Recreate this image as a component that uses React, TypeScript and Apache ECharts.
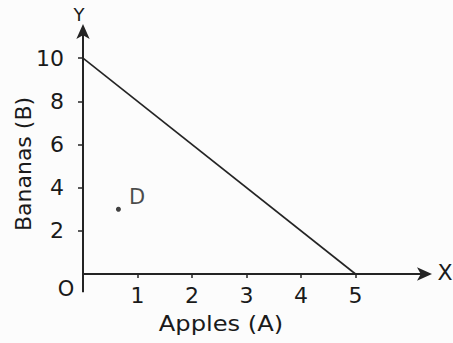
import React, { useEffect, useRef } from "react";
import * as echarts from "echarts";

const xTicks = [1, 2, 3, 4, 5];
const yTicks = [2, 4, 6, 8, 10];
const budgetLine: [number, number][] = [
  [0, 10],
  [5, 0],
];
const pointD: [number, number][] = [[0.65, 3]];
const pointLabel = "D";
const xName = "Apples (A)";
const yName = "Bananas (B)";
// short stubs of the axes that run past the origin
const xAxisStub: [number, number][] = [
  [-0.45, 0],
  [0, 0],
];
const yAxisStub: [number, number][] = [
  [0, 0],
  [0, -0.85],
];

const FONT = "DejaVu Sans, Liberation Sans, Arial, sans-serif";
const INK = "#242424";
const TXT = "#1a1a1a";

export default function App() {
  const ref = useRef<HTMLDivElement>(null);
  useEffect(() => {
    document.body.style.margin = "0";
    const chart = echarts.init(ref.current!, null, { renderer: "svg" });
    chart.setOption({
      animation: false,
      backgroundColor: "#fcfcfc",
      grid: { left: 83, right: 25, top: 28, bottom: 69 },
      xAxis: {
        type: "value",
        min: 0,
        max: 6.33,
        splitLine: { show: false },
        axisLine: {
          symbol: ["none", "arrow"],
          symbolSize: [10, 15],
          symbolOffset: [0, 4],
          lineStyle: { color: INK, width: 2 },
        },
        axisTick: {
          customValues: xTicks,
          length: 4,
          lineStyle: { color: INK, width: 1.5 },
        },
        axisLabel: {
          customValues: xTicks,
          margin: 10,
          color: TXT,
          fontSize: 22,
          fontFamily: FONT,
        },
      },
      yAxis: {
        type: "value",
        min: 0,
        max: 11.4,
        splitLine: { show: false },
        axisLine: {
          symbol: ["none", "arrow"],
          symbolSize: [10, 15],
          symbolOffset: [0, 4],
          lineStyle: { color: INK, width: 2 },
        },
        axisTick: {
          customValues: yTicks,
          length: 5,
          lineStyle: { color: INK, width: 1.5 },
        },
        axisLabel: {
          customValues: yTicks,
          margin: 19,
          color: TXT,
          fontSize: 22,
          fontFamily: FONT,
        },
      },
      series: [
        {
          type: "line",
          data: xAxisStub,
          symbol: "none",
          clip: false,
          silent: true,
          lineStyle: { color: INK, width: 2 },
        },
        {
          type: "line",
          data: yAxisStub,
          symbol: "none",
          clip: false,
          silent: true,
          lineStyle: { color: INK, width: 2 },
        },
        {
          type: "line",
          data: budgetLine,
          symbol: "none",
          lineStyle: { color: INK, width: 1.6 },
        },
        {
          type: "scatter",
          data: pointD,
          symbolSize: 5,
          itemStyle: { color: "#111" },
          label: {
            show: true,
            formatter: pointLabel,
            position: "right",
            offset: [3, -12],
            color: TXT,
            fontSize: 21,
            fontFamily: FONT,
          },
        },
      ],
      graphic: [
        {
          type: "text",
          x: 221,
          y: 323,
          scaleX: 1.1,
          style: {
            text: xName,
            fill: TXT,
            font: `22px ${FONT}`,
            textAlign: "center",
            textVerticalAlign: "middle",
          },
        },
        {
          type: "text",
          x: 23,
          y: 164,
          rotation: Math.PI / 2,
          style: {
            text: yName,
            fill: TXT,
            font: `22px ${FONT}`,
            textAlign: "center",
            textVerticalAlign: "middle",
          },
        },
        {
          type: "text",
          x: 79,
          y: 14,
          style: {
            text: "Y",
            fill: TXT,
            font: `18px ${FONT}`,
            textAlign: "center",
            textVerticalAlign: "middle",
          },
        },
        {
          type: "text",
          x: 445,
          y: 272,
          style: {
            text: "X",
            fill: TXT,
            font: `22px ${FONT}`,
            textAlign: "center",
            textVerticalAlign: "middle",
          },
        },
        {
          type: "text",
          x: 66,
          y: 289,
          style: {
            text: "O",
            fill: TXT,
            font: `21px ${FONT}`,
            textAlign: "center",
            textVerticalAlign: "middle",
          },
        },
      ],
    });
    return () => chart.dispose();
  }, []);
  return <div ref={ref} style={{ width: 453, height: 343 }} />;
}
